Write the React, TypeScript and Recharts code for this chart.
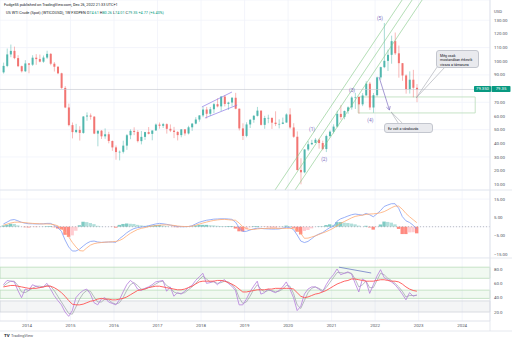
import React from "react";
import {
  ComposedChart,
  Bar,
  Line,
  XAxis,
  YAxis,
  CartesianGrid,
  ReferenceLine,
  ReferenceArea,
  ReferenceDot,
  Cell,
} from "recharts";

// monthly bars, first one is June 2013
const START_YEAR = 2013;
const START_MONTH = 5;

const opens = [
  91.9, 96.6, 105.0, 107.6, 102.3, 96.4, 92.7,
  98.4, 97.5, 102.6, 101.6, 99.7, 102.7, 105.4, 98.2, 96.0, 91.2, 80.5, 66.2,
  53.3, 48.2, 49.8, 47.6, 59.6, 60.3, 59.5, 47.1, 49.2, 45.1, 46.6, 41.7,
  37.0, 33.6, 33.8, 38.3, 45.9, 49.1, 48.3, 41.6, 44.7, 48.2, 46.9, 49.4,
  53.7, 52.8, 54.0, 50.6, 49.3, 48.3, 46.0, 50.2, 47.2, 51.7, 54.4, 57.4,
  60.4, 64.7, 61.6, 64.9, 68.6, 67.0, 74.2, 68.8, 69.8, 73.3, 65.3, 50.9,
  45.4, 53.8, 57.2, 60.1, 63.9, 53.5, 58.5, 58.6, 55.1, 54.1, 54.2, 55.2,
  61.1, 51.6, 44.8, 20.5, 18.8, 35.5, 39.3, 40.3, 42.6, 40.2, 35.8, 45.3,
  48.5, 52.2, 61.5, 59.2, 63.6, 66.3, 73.5, 73.9, 68.5, 75.0, 83.6, 66.2,
  75.2, 88.2, 95.7, 100.3, 104.7, 114.7, 105.8, 98.6, 89.6, 79.5, 86.5, 80.6,
];
const highs = [
  99.0, 109.3, 112.2, 110.7, 104.4, 96.8, 100.8,
  98.7, 104.4, 105.2, 104.9, 104.2, 107.7, 106.0, 99.4, 96.3, 91.6, 81.8, 69.0,
  55.2, 54.2, 52.5, 59.9, 62.6, 61.8, 59.8, 49.3, 49.7, 50.9, 48.4, 42.0,
  38.4, 34.7, 41.9, 46.8, 50.2, 51.7, 49.6, 49.0, 48.4, 51.9, 49.2, 54.5,
  55.2, 54.9, 54.6, 53.8, 52.0, 48.9, 50.4, 50.4, 52.8, 54.8, 59.1, 60.5,
  66.7, 66.6, 66.6, 69.6, 72.9, 74.4, 75.3, 70.4, 73.8, 76.9, 65.4, 54.6,
  55.4, 57.8, 60.7, 66.6, 63.9, 60.1, 60.9, 58.8, 63.4, 57.5, 58.8, 61.9,
  65.6, 54.7, 48.7, 29.1, 35.6, 41.6, 42.5, 43.8, 43.4, 41.9, 46.3, 49.4,
  53.9, 63.8, 67.9, 64.0, 67.0, 74.4, 76.9, 74.0, 76.7, 85.4, 84.9, 76.8,
  88.8, 96.0, 128.0, 108.5, 118.7, 121.0, 111.5, 98.7, 90.4, 92.6, 93.7, 83.3,
];
const lows = [
  91.0, 95.7, 103.0, 101.5, 95.7, 91.8, 92.1,
  91.2, 96.6, 97.4, 99.2, 98.9, 101.7, 97.1, 92.5, 90.6, 79.8, 65.7, 52.4,
  43.6, 47.4, 42.0, 47.0, 56.5, 57.3, 46.7, 37.8, 43.2, 43.3, 40.0, 34.5,
  28.0, 27.5, 32.6, 35.2, 43.0, 46.0, 40.6, 39.2, 42.5, 46.5, 42.2, 49.2,
  50.7, 51.2, 47.1, 48.2, 43.8, 42.1, 44.4, 45.6, 46.5, 49.1, 53.9, 55.8,
  59.1, 58.1, 59.9, 62.0, 66.3, 63.6, 67.0, 64.4, 67.0, 64.9, 49.4, 42.4,
  44.4, 51.2, 55.0, 59.6, 53.0, 50.6, 54.7, 50.5, 52.6, 50.9, 54.0, 55.0,
  50.6, 44.0, 20.0, 10.0, 18.1, 34.4, 38.7, 40.3, 36.1, 34.9, 33.6, 44.3,
  47.2, 51.6, 57.3, 57.6, 61.6, 64.6, 65.1, 61.7, 67.2, 74.9, 64.4, 62.4,
  74.3, 86.6, 95.0, 92.9, 98.2, 104.6, 88.0, 85.7, 76.3, 76.4, 73.6, 70.1,
];
const closes = [
  96.6, 105.0, 107.6, 102.3, 96.4, 92.7, 98.4,
  97.5, 102.6, 101.6, 99.7, 102.7, 105.4, 98.2, 96.0, 91.2, 80.5, 66.2, 53.3,
  48.2, 49.8, 47.6, 59.6, 60.3, 59.5, 47.1, 49.2, 45.1, 46.6, 41.7, 37.0,
  33.6, 33.8, 38.3, 45.9, 49.1, 48.3, 41.6, 44.7, 48.2, 46.9, 49.4, 53.7,
  52.8, 54.0, 50.6, 49.3, 48.3, 46.0, 50.2, 47.2, 51.7, 54.4, 57.4, 60.4,
  64.7, 61.6, 64.9, 68.6, 67.0, 74.2, 68.8, 69.8, 73.3, 65.3, 50.9, 45.4,
  53.8, 57.2, 60.1, 63.9, 53.5, 58.5, 58.6, 55.1, 54.1, 54.2, 55.2, 61.1,
  51.6, 44.8, 20.5, 18.8, 35.5, 39.3, 40.3, 42.6, 40.2, 35.8, 45.3, 48.5,
  52.2, 61.5, 59.2, 63.6, 66.3, 73.5, 73.9, 68.5, 75.0, 83.6, 66.2, 75.2,
  88.2, 95.7, 100.3, 104.7, 114.7, 105.8, 98.6, 89.6, 79.5, 86.5, 80.6, 79.35,
];

const macdLine = [
  1.5, 2.5, 3.6, 3.9, 3.2, 2.4, 1.9,
  1.6, 1.6, 1.5, 1.5, 1.6, 1.8, 1.8, 0.8, -0.5, -2.5, -7.2, -11,
  -13.2, -13.2, -12.2, -10.5, -9, -8, -7.8, -8.3, -8.5, -8.4, -8.3, -8.3,
  -8.5, -6.5, -5, -3.3, -2, -1, -0.5, -0.2, 0, 0.5, 1, 1.5,
  1.8, 1.6, 1.3, 0.9, 0.5, 0.1, 0, 0, 0.1, 0.5, 1.5, 2.4,
  3, 3.5, 3.8, 4.1, 4.2, 4.3, 4.3, 4.2, 4, 2.5, -0.5, -2.6,
  -2.5, -1.8, -1.2, -0.8, -0.9, -1.1, -1.2, -1.3, -1.3, -1.2, -0.8, -0.3,
  -0.5, -1.6, -4.5, -7.8, -8.6, -8, -6.5, -5, -4, -3.2, -1.8, -0.5,
  0.2, 3, 4.3, 5, 5.8, 6.5, 6.9, 6.6, 6.3, 7.2, 6.5, 5.4,
  7, 8.8, 11, 11.8, 12.5, 12.5, 10, 5.5, 3.2, 2.3, 0.8, -1.4,
];
const signalLine = [
  0.8, 1.4, 2, 2.4, 2.5, 2.4, 2.2,
  2, 1.8, 1.7, 1.6, 1.5, 1.5, 1.4, 1.1, 0.5, -1, -2.8, -5.5,
  -8.5, -11, -13, -13.2, -11.5, -10, -9.2, -8.8, -8.6, -8.4, -8.3, -8.2,
  -8, -7.5, -6.5, -5, -3.6, -2.5, -1.5, -0.9, -0.5, 0, 0.4, 0.6,
  0.8, 1, 1, 0.9, 0.7, 0.4, 0.2, 0.1, 0.1, 0.3, 0.8, 1.4,
  2, 2.5, 3, 3.4, 3.7, 3.9, 4, 3.8, 3.6, 3.5, 2, 0,
  -1, -1.5, -1.5, -1.2, -1, -1, -0.9, -0.9, -0.9, -0.9, -0.9, -0.9,
  -0.9, -1, -1.8, -3.6, -6.3, -6.2, -5.6, -5, -4.2, -3.4, -2.7, -1.8,
  -0.8, 0.5, 1.8, 2.8, 3.8, 4.8, 5.6, 6, 6.3, 6.7, 6.9, 7,
  7.2, 7.6, 8.2, 9.2, 10.3, 11.2, 11.2, 9.5, 7.2, 5.4, 3.8, 2.2,
];

const rsiLine = [
  58, 64, 63, 62, 50, 40, 52,
  50, 58, 56, 54, 55, 60, 52, 43, 36, 30, 20, 14,
  22, 40, 46, 50, 52, 45, 33, 30, 38, 40, 34, 32,
  30, 37, 48, 58, 64, 60, 52, 50, 53, 55, 58, 62,
  63, 64, 49, 55, 42, 47, 45, 49, 54, 57, 64, 69,
  74, 60, 61, 63, 58, 63, 65, 60, 56, 50, 30, 30,
  38, 48, 56, 63, 45, 47, 52, 49, 47, 50, 55, 62,
  52, 40, 22, 28, 45, 52, 55, 55, 52, 48, 58, 66,
  72, 80, 72, 74, 76, 73, 60, 48, 66, 63, 46, 58,
  70, 79, 68, 65, 62, 58, 52, 45, 37, 47, 42, 44,
];
const rsiSignal = [
  56, 60, 63, 63, 57, 48, 47,
  50, 53, 56, 56, 55, 57, 56, 50, 42, 34, 26, 18,
  17, 27, 38, 46, 50, 49, 41, 34, 34, 38, 37, 33,
  31, 33, 40, 50, 58, 61, 57, 52, 52, 54, 56, 59,
  62, 63, 57, 54, 48, 46, 46, 47, 51, 55, 60, 65,
  70, 66, 62, 62, 60, 61, 63, 62, 58, 53, 40, 32,
  34, 42, 51, 58, 52, 48, 50, 50, 48, 49, 52, 57,
  56, 46, 30, 25, 36, 47, 53, 55, 53, 50, 54, 61,
  68, 75, 75, 74, 75, 74, 66, 55, 58, 63, 54, 54,
  64, 74, 72, 67, 64, 60, 55, 49, 41, 43, 43, 43,
];
const rsiMa = [
  55, 56, 57, 57, 56, 55, 54,
  53, 53, 53, 54, 55, 56, 56, 54, 51, 47, 42, 36,
  31, 30, 30, 31, 33, 35, 36, 38, 39, 38, 38, 37,
  37, 38, 39, 41, 44, 47, 50, 51, 52, 54, 55, 56,
  56, 55, 54, 53, 52, 51, 51, 52, 54, 56, 59, 62,
  63, 63, 63, 63, 64, 64, 63, 61, 59, 56, 52, 48,
  48, 49, 50, 51, 51, 51, 52, 52, 53, 53, 53, 53,
  53, 52, 47, 42, 40, 41, 43, 45, 46, 48, 50, 53,
  56, 59, 61, 63, 64, 66, 66, 65, 64, 63, 63, 63,
  64, 65, 65, 64, 63, 63, 62, 59, 55, 52, 50, 49,
];

const YEAR_TICKS = [2014, 2015, 2016, 2017, 2018, 2019, 2020, 2021, 2022, 2023, 2024];
// 80.00 sits under the last-price badge, so it is left out
const PRICE_TICKS = [10, 20, 30, 40, 50, 60, 70, 90, 100, 110, 120, 130];
const MACD_TICKS = [-15, -10, -5, 0, 5, 10, 15];
const RSI_TICKS = [20, 40, 60, 80];
const LAST_PRICE = 79.35;

const X_MIN = 2013.38;
const X_MAX = 2024.64;

const times = closes.map((_, i) => START_YEAR + (START_MONTH + i + 0.5) / 12);

const priceData = times.map((t, i) => ({
  t,
  open: opens[i],
  high: highs[i],
  low: lows[i],
  close: closes[i],
  range: [lows[i], highs[i]],
}));
const macdData = times.map((t, i) => ({
  t,
  macd: macdLine[i],
  signal: signalLine[i],
  hist: Math.round((macdLine[i] - signalLine[i]) * 100) / 100,
}));
const rsiData = times.map((t, i) => ({ t, rsi: rsiLine[i], sig: rsiSignal[i], ma: rsiMa[i] }));

const UP = "#26a69a";
const DOWN = "#ef5350";
const GRID = "#f0f3fa";
const AXIS = "#e0e3eb";
const TEXT = "#50535e";
const FONT = "Roboto, 'Liberation Sans', sans-serif";
const tickStyle = { fontSize: 4.4, fill: TEXT, fontFamily: FONT };

const Candle = (props: any) => {
  const { x, y, width, height, payload } = props;
  if (!payload || x == null) return null;
  const { open, close, high, low } = payload;
  const color = close >= open ? UP : DOWN;
  const h = Math.abs(height);
  const top = height >= 0 ? y : y + height;
  const ratio = high === low ? 0 : h / (high - low);
  const bTop = top + (high - Math.max(open, close)) * ratio;
  const bH = Math.max(0.6, Math.abs(open - close) * ratio);
  const cx = x + width / 2;
  return (
    <g opacity={0.8}>
      <line x1={cx} x2={cx} y1={top} y2={top + h} stroke={color} strokeWidth={0.5} />
      <rect x={x} y={bTop} width={width} height={bH} fill={color} />
    </g>
  );
};

const histColor = (i: number) => {
  const v = macdData[i].hist;
  const prev = i > 0 ? macdData[i - 1].hist : v;
  if (v >= 0) return v >= prev ? "#80cbc4" : "#b2dfdb";
  return v <= prev ? "#ff8a80" : "#ffcdd2";
};

const channel = [
  [2019.7, 2022.62],
  [2019.93, 2022.85],
  [2020.16, 2023.08],
];

const waves = [
  { t: 2020.55, p: 50.5, label: "(1)" },
  { t: 2020.83, p: 28.5, label: "(2)" },
  { t: 2021.47, p: 79, label: "(3)" },
  { t: 2021.89, p: 57, label: "(4)" },
  { t: 2022.11, p: 131.5, label: "(5)" },
];

const xAxisProps = {
  dataKey: "t",
  type: "number" as const,
  domain: [X_MIN, X_MAX],
  ticks: YEAR_TICKS,
  allowDataOverflow: true,
};

const yAxisBase = {
  orientation: "right" as const,
  width: 22,
  tickLine: false,
  tick: tickStyle,
  tickMargin: 4,
  tickSize: 0,
  axisLine: { stroke: AXIS },
  allowDataOverflow: true,
};

export default function App() {
  return (
    <div
      style={{
        position: "absolute",
        left: 0,
        top: 0,
        width: 512,
        height: 341,
        background: "#fff",
        fontFamily: FONT,
        overflow: "hidden",
      }}
    >
      <div style={{ position: "absolute", left: 0, top: 0 }}>
        <ComposedChart width={512} height={190} data={priceData} margin={{ top: 0, right: 0, bottom: 0, left: 0 }}>
          <CartesianGrid stroke={GRID} strokeWidth={0.8} />
          <XAxis {...xAxisProps} hide />
          <YAxis
            {...yAxisBase}
            domain={[5.85, 144.8]}
            ticks={PRICE_TICKS}
            tickFormatter={(v: number) => v.toFixed(2)}
          />
          <ReferenceLine y={LAST_PRICE} stroke="#c3c6ce" strokeWidth={0.6} />
          {channel.map(([a, b], i) => (
            <ReferenceLine
              key={i}
              segment={[{ x: a, y: 5.85 }, { x: b, y: 144.8 }]}
              stroke="#81c784"
              strokeWidth={0.6}
              ifOverflow="hidden"
            />
          ))}
          <ReferenceArea
            x1={2021.61}
            x2={2024.3}
            y1={62.2}
            y2={73.9}
            stroke="#b9dcb9"
            strokeWidth={0.8}
            fill="none"
            ifOverflow="visible"
          />
          <Bar dataKey="range" barSize={2} shape={<Candle />} isAnimationActive={false} />
          <ReferenceLine segment={[{ x: 2018.02, y: 66.6 }, { x: 2018.71, y: 77.5 }]} stroke="#8c7ae6" strokeWidth={0.7} />
          <ReferenceLine segment={[{ x: 2018.09, y: 58.5 }, { x: 2018.83, y: 68.0 }]} stroke="#8c7ae6" strokeWidth={0.7} />
          <ReferenceLine segment={[{ x: 2022.09, y: 88.5 }, { x: 2022.329, y: 64.37 }]} stroke="#7e6ec0" strokeWidth={0.7} />
          <ReferenceLine segment={[{ x: 2022.347, y: 67.23 }, { x: 2022.329, y: 64.37 }]} stroke="#7e6ec0" strokeWidth={0.7} />
          <ReferenceLine segment={[{ x: 2022.26, y: 66.35 }, { x: 2022.329, y: 64.37 }]} stroke="#7e6ec0" strokeWidth={0.7} />
          <ReferenceLine segment={[{ x: 2023.425, y: 95.8 }, { x: 2022.943, y: 73.15 }]} stroke="#a3a6af" strokeWidth={0.6} />
          <ReferenceLine segment={[{ x: 2023.586, y: 95.1 }, { x: 2022.943, y: 73.15 }]} stroke="#a3a6af" strokeWidth={0.6} />
          <ReferenceLine segment={[{ x: 2022.529, y: 54.9 }, { x: 2022.368, y: 62.9 }]} stroke="#a3a6af" strokeWidth={0.6} />
          <ReferenceLine segment={[{ x: 2022.621, y: 54.9 }, { x: 2022.368, y: 62.9 }]} stroke="#a3a6af" strokeWidth={0.6} />
          {waves.map((w) => (
            <ReferenceDot
              key={w.label}
              x={w.t}
              y={w.p}
              r={0}
              fill="none"
              stroke="none"
              label={{ value: w.label, position: "center", fontSize: 4.8, fill: "#7e6ec0", fontFamily: FONT }}
            />
          ))}
        </ComposedChart>
      </div>

      <div style={{ position: "absolute", left: 0, top: 190 }}>
        <ComposedChart width={512} height={68} data={macdData} margin={{ top: 0, right: 0, bottom: 0, left: 0 }}>
          <CartesianGrid stroke={GRID} strokeWidth={0.8} />
          <XAxis {...xAxisProps} hide />
          <YAxis
            {...yAxisBase}
            domain={[-17, 19.95]}
            ticks={MACD_TICKS}
            tickFormatter={(v: number) => (v < 0 ? "\u2212" + Math.abs(v).toFixed(2) : v.toFixed(2))}
          />
          <ReferenceLine y={0} stroke="#9598a1" strokeDasharray="1 2" strokeWidth={0.6} />
          <Bar dataKey="hist" barSize={3.4} isAnimationActive={false}>
            {macdData.map((_, i) => (
              <Cell key={i} fill={histColor(i)} />
            ))}
          </Bar>
          <Line dataKey="macd" stroke="#7f9cf5" strokeWidth={0.8} dot={false} isAnimationActive={false} />
          <Line dataKey="signal" stroke="#ffab73" strokeWidth={0.8} dot={false} isAnimationActive={false} />
        </ComposedChart>
      </div>

      <div style={{ position: "absolute", left: 0, top: 258 }}>
        <ComposedChart width={512} height={73} data={rsiData} margin={{ top: 0, right: 0, bottom: 0, left: 0 }}>
          <CartesianGrid stroke={GRID} strokeWidth={0.8} horizontal={false} />
          <XAxis
            {...xAxisProps}
            height={10}
            tickLine={false}
            tickSize={0}
            tickMargin={3}
            axisLine={{ stroke: AXIS }}
            tick={tickStyle}
          />
          <YAxis {...yAxisBase} domain={[7.5, 95.3]} ticks={RSI_TICKS} tickFormatter={(v: number) => v.toFixed(1)} />
          <ReferenceArea y1={67} y2={82.5} fill="#4caf50" fillOpacity={0.08} stroke="#b9dcb9" strokeWidth={0.8} />
          <ReferenceArea y1={39} y2={50.5} fill="#4caf50" fillOpacity={0.08} stroke="#b9dcb9" strokeWidth={0.8} />
          <ReferenceArea y1={20} y2={35.5} fill="#787b86" fillOpacity={0.08} stroke="#d1d4dc" strokeWidth={0.8} />
          <Line dataKey="sig" stroke="#9aa0a6" strokeWidth={0.7} dot={false} isAnimationActive={false} />
          <Line dataKey="rsi" stroke="#b57edc" strokeWidth={0.8} dot={false} isAnimationActive={false} />
          <Line dataKey="ma" stroke="#ff5252" strokeWidth={0.9} dot={false} isAnimationActive={false} />
          <ReferenceLine segment={[{ x: 2021.17, y: 82.5 }, { x: 2021.91, y: 74.4 }]} stroke="#5c6bc0" strokeWidth={0.7} />
        </ComposedChart>
      </div>

      <svg width={512} height={341} style={{ position: "absolute", left: 0, top: 0, pointerEvents: "none" }}>
        <line x1={0} x2={512} y1={190} y2={190} stroke={AXIS} strokeWidth={0.8} />
        <line x1={0} x2={512} y1={258} y2={258} stroke={AXIS} strokeWidth={0.8} />
        <line x1={0} x2={512} y1={331} y2={331} stroke={AXIS} strokeWidth={0.8} />
        <line x1={490} x2={490} y1={321} y2={331} stroke={AXIS} strokeWidth={0.8} />
        <text x={4} y={5.8} fontSize={3.8} fill="#131722" fontFamily={FONT}>
          Fudge55 published on TradingView.com, Dec 26, 2022 21:33 UTC+1
        </text>
        <text x={6} y={14.2} fontSize={3.8} fill="#131722" fontFamily={FONT}>
          US WTI Crude (Spot) (WTICOUSD), 1W FXOPEN{" "}
          <tspan>O</tspan>
          <tspan fill="#089981">74.61 </tspan>
          <tspan>H</tspan>
          <tspan fill="#089981">80.26 </tspan>
          <tspan>L</tspan>
          <tspan fill="#089981">74.01 </tspan>
          <tspan>C</tspan>
          <tspan fill="#089981">79.35 +4.77 (+6.40%)</tspan>
        </text>
        <text x={494} y={13} fontSize={4.2} fill={TEXT} fontFamily={FONT}>
          USD
        </text>
        <rect x={474} y={86} width={17} height={6} fill="#089981" rx={0.8} />
        <rect x={491.5} y={86} width={19} height={6} fill="#089981" rx={0.8} />
        <text x={482.5} y={90.4} fontSize={4.2} fill="#fff" textAnchor="middle" fontFamily={FONT}>
          79.350
        </text>
        <text x={501} y={90.4} fontSize={4.2} fill="#fff" textAnchor="middle" fontFamily={FONT}>
          79.35
        </text>
        <text x={4} y={337} fontSize={4.4} fill="#131722" fontFamily={FONT} fontWeight="bold">
          TV
        </text>
        <text x={11} y={337} fontSize={4} fill="#50535e" fontFamily={FONT}>
          TradingView
        </text>
      </svg>

      <div
        style={{
          position: "absolute",
          left: 436,
          top: 50,
          width: 43,
          height: 18,
          boxSizing: "border-box",
          background: "#e9eaee",
          border: "0.6px solid #c3c6ce",
          borderRadius: 3,
          padding: "3px 3px",
          fontSize: 3.6,
          lineHeight: "4.3px",
          color: "#131722",
        }}
      >
        Még csak
        <br />
        mostanában érkezik
        <br />
        vissza a támaszra
      </div>
      <div
        style={{
          position: "absolute",
          left: 384,
          top: 123,
          width: 49,
          height: 10,
          boxSizing: "border-box",
          background: "#e9eaee",
          border: "0.6px solid #c3c6ce",
          borderRadius: 3,
          padding: "3px 3px",
          fontSize: 3.6,
          lineHeight: "4px",
          color: "#131722",
        }}
      >
        Ez volt a várakozás
      </div>
    </div>
  );
}
